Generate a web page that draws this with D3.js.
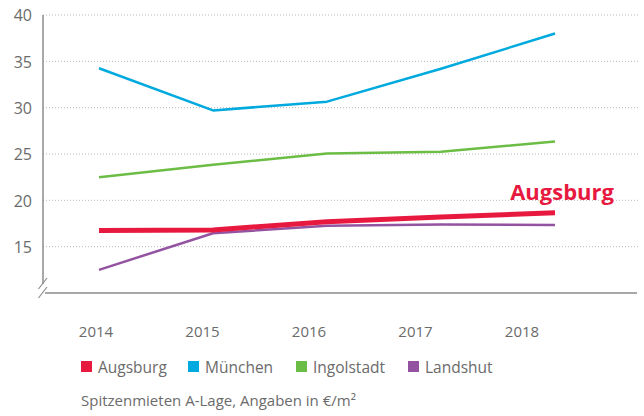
<!DOCTYPE html>
<html>
<head>
<meta charset="utf-8">
<script src="https://cdn.jsdelivr.net/npm/d3@7"></script>
<style>
  body { margin: 0; background: #fff; }
  svg text { font-family: "Open Sans", "DejaVu Sans", sans-serif; }
</style>
</head>
<body>
<svg id="drawing_region"></svg>
<script>
const years = [2014, 2015, 2016, 2017, 2018];
const yTicks = [15, 20, 25, 30, 35, 40];
const augsburg = [16.75, 16.8, 17.7, 18.2, 18.65];
const muenchen = [34.25, 29.7, 30.65, 34.2, 38.0];
const ingolstadt = [22.5, 23.85, 25.05, 25.25, 26.35];
const landshut = [12.5, 16.45, 17.25, 17.4, 17.35];
const seriesNames = ['Augsburg', 'München', 'Ingolstadt', 'Landshut'];
const caption = 'Spitzenmieten A-Lage, Angaben in €/m²';

const colors = ['#e8193f', '#00a9de', '#6cbd45', '#9453a1'];
const widths = [5, 2.5, 2.5, 2.5];
const series = [augsburg, muenchen, ingolstadt, landshut];

const width = 644, height = 416;
const axisX = 43, axisY = 293;

const svg = d3.select('#drawing_region')
    .attr('width', width)
    .attr('height', height);

const xscale = d3.scalePoint().domain(years).range([99, 555]);
const xlabel = d3.scalePoint().domain(years).range([96, 522]);
const yscale = d3.scaleLinear().domain([10, 40]).range([axisY, 15]);

// grid lines
svg.append('g').selectAll('line').data(yTicks)
    .join('line')
    .attr('x1', axisX).attr('x2', 639)
    .attr('y1', d => yscale(d)).attr('y2', d => yscale(d))
    .attr('stroke', '#b8b8b8')
    .attr('stroke-width', 1)
    .attr('stroke-dasharray', '1,2');

// y axis labels
const yaxis = d3.axisLeft(yscale).tickValues(yTicks).tickSize(0).tickPadding(11);
const yg = svg.append('g')
    .attr('transform', `translate(${axisX},0)`)
    .call(yaxis);
yg.select('.domain').remove();
yg.selectAll('text')
    .attr('fill', '#6b6b6b')
    .attr('font-size', 16)
    .attr('dy', '0.36em');

// axis lines with break
svg.append('line')
    .attr('x1', axisX).attr('x2', axisX)
    .attr('y1', yscale(40)).attr('y2', 284)
    .attr('stroke', '#8c8c8c').attr('stroke-width', 1.5);
svg.append('line')
    .attr('x1', axisX + 2).attr('x2', 637)
    .attr('y1', axisY).attr('y2', axisY)
    .attr('stroke', '#a8a8a8').attr('stroke-width', 2);
[[38.5, 289, 47, 278], [38.5, 298, 47, 287]].forEach(s => {
    svg.append('line')
        .attr('x1', s[0]).attr('y1', s[1]).attr('x2', s[2]).attr('y2', s[3])
        .attr('stroke', '#8c8c8c').attr('stroke-width', 1.2);
});

// x axis labels
svg.append('g').selectAll('text').data(years)
    .join('text')
    .attr('x', d => xlabel(d))
    .attr('y', 337)
    .attr('text-anchor', 'middle')
    .attr('fill', '#6b6b6b')
    .attr('font-size', 15)
    .text(d => d);

// lines (draw Augsburg last so it sits on top)
const line = d3.line()
    .x((d, i) => xscale(years[i]))
    .y(d => yscale(d));

[1, 2, 3, 0].forEach(i => {
    svg.append('path')
        .datum(series[i])
        .attr('fill', 'none')
        .attr('stroke', colors[i])
        .attr('stroke-width', widths[i])
        .attr('stroke-linejoin', 'round')
        .attr('d', line);
});

// direct label
svg.append('text')
    .attr('x', 614)
    .attr('y', 200)
    .attr('text-anchor', 'end')
    .attr('fill', colors[0])
    .attr('font-size', 22)
    .attr('font-weight', 'bold')
    .text('Augsburg');

// legend
const legendX = [81, 188, 296, 408];
const lg = svg.append('g').selectAll('g').data(seriesNames)
    .join('g')
    .attr('transform', (d, i) => `translate(${legendX[i]},361)`);
lg.append('rect')
    .attr('width', 11).attr('height', 11)
    .attr('fill', (d, i) => colors[i]);
lg.append('text')
    .attr('x', 17).attr('y', 12)
    .attr('fill', '#6b6b6b')
    .attr('font-size', 15.5)
    .text(d => d);

svg.append('text')
    .attr('x', 81).attr('y', 406)
    .attr('fill', '#6b6b6b')
    .attr('font-size', 15)
    .text(caption);
</script>
</body>
</html>
